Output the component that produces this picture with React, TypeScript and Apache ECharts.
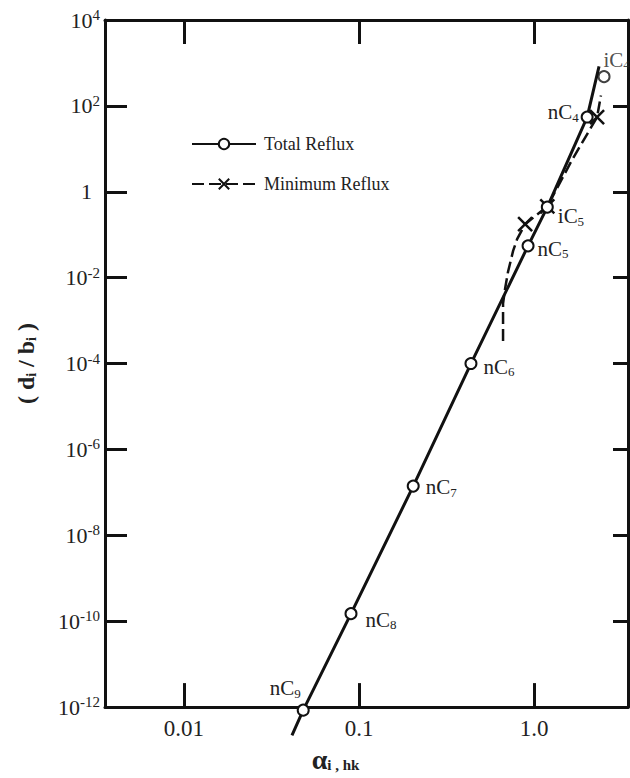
import React, { useEffect, useRef } from 'react';
import * as echarts from 'echarts';

const FONT = '"Liberation Serif", "Times New Roman", serif';

// Total reflux: component points
const components = ['nC9', 'nC8', 'nC7', 'nC6', 'nC5', 'iC5', 'nC4', 'iC4'];
const alphaTotal = [0.048, 0.09, 0.204, 0.436, 0.924, 1.19, 2.01, 2.51];
const ratioTotal = [8.5e-13, 1.5e-10, 1.4e-7, 1.0e-4, 0.055, 0.44, 55, 480];
// Total reflux straight line extension end points
const totalLineStart = [0.0414, 2.2e-13];
const totalLineEnd = [2.35, 830];

// Minimum reflux curve
const minPathAlpha = [0.665, 0.665, 0.683, 0.71, 0.759, 0.8, 0.889, 1.19, 1.65, 2.29, 2.41];
const minPathRatio = [3.35e-4, 2.5e-3, 5.5e-3, 0.0137, 0.042, 0.079, 0.176, 0.457, 5.56, 54.5, 175];
const minMarkerAlpha = [0.889, 1.19, 2.29];

// Axes
const xMin = 0.00354;
const xMax = 3.44;
const xTicks = [0.01, 0.1, 1];
const xTickLabels = ['0.01', '0.1', '1.0'];
const yExponents = [-12, -10, -8, -6, -4, -2, 0, 2, 4];

const labelPlace: Record<string, { position: string; offset: number[] }> = {
  nC9: { position: 'left', offset: [9, -22] },
  nC8: { position: 'right', offset: [3, 6] },
  nC7: { position: 'right', offset: [1, 1] },
  nC6: { position: 'right', offset: [1, 3] },
  nC5: { position: 'right', offset: [-2, 3] },
  iC5: { position: 'right', offset: [-1, 9] },
  nC4: { position: 'left', offset: [3, -5] },
  iC4: { position: 'right', offset: [-12, -17] },
};

const subRich = {
  m: { fontFamily: FONT, fontSize: 21, color: '#222', lineHeight: 24 },
  s: { fontFamily: FONT, fontSize: 13, color: '#222', lineHeight: 14, padding: [10, 0, 0, 0] },
};

function compLabel(name: string) {
  const p = labelPlace[name];
  return {
    show: true,
    position: p.position,
    offset: p.offset,
    formatter: `{m|${name.slice(0, 2)}}{s|${name.slice(2)}}`,
    rich: subRich,
  };
}

export default function App() {
  const ref = useRef<HTMLDivElement>(null);

  useEffect(() => {
    if (!ref.current) return;
    const chart = echarts.init(ref.current, undefined, { renderer: 'svg' });

    const yTicks = yExponents.map((e) => Math.pow(10, e));

    const totalLineData: any[] = [{ value: totalLineStart, symbol: 'none' }];
    components.forEach((c, i) => {
      if (c === 'iC4') return;
      totalLineData.push({ value: [alphaTotal[i], ratioTotal[i]], label: compLabel(c) });
    });
    totalLineData.push({ value: totalLineEnd, symbol: 'none' });

    const iC4i = components.indexOf('iC4');

    const minData = minPathAlpha.map((a, i) => {
      const isMarker = minMarkerAlpha.some((m) => Math.abs(m - a) < 1e-9);
      return isMarker ? { value: [a, minPathRatio[i]] } : { value: [a, minPathRatio[i]], symbol: 'none' };
    });

    const black = '#111';
    const xLabelFmt = (v: number) => {
      const idx = xTicks.findIndex((t) => Math.abs(Math.log10(t) - Math.log10(v)) < 1e-6);
      return idx >= 0 ? xTickLabels[idx] : '';
    };
    const yLabelFmt = (v: number) => {
      const e = Math.round(Math.log10(v));
      if (e === 0) return '{one|1}';
      return `{b|10}{s|${e}}`;
    };

    const option: any = {
      animation: false,
      backgroundColor: '#fff',
      grid: { left: 105, right: 2, top: 20, bottom: 66 },
      legend: {
        data: ['Total Reflux', 'Minimum Reflux'],
        orient: 'vertical',
        left: 186,
        top: 130,
        itemWidth: 64,
        itemHeight: 13,
        itemGap: 22,
        textStyle: { fontFamily: FONT, fontSize: 18, color: '#222', padding: [0, 0, 0, 3] },
      },
      xAxis: [
        {
          type: 'log',
          min: xMin,
          max: xMax,
          position: 'bottom',
          axisLine: { show: true, lineStyle: { color: black, width: 3 } },
          axisTick: { show: true, inside: true, length: 24, customValues: xTicks, lineStyle: { color: black, width: 3 } },
          axisLabel: {
            show: true,
            customValues: xTicks,
            formatter: xLabelFmt,
            fontFamily: FONT,
            fontSize: 23,
            color: '#222',
            margin: 10,
          },
          splitLine: { show: false },
          minorTick: { show: false },
          name: '{a|α}{s|i , hk}',
          nameLocation: 'middle',
          nameGap: 36,
          nameTextStyle: {
            padding: [0, 62, 0, 0],
            rich: {
              a: { fontFamily: FONT, fontSize: 28, fontWeight: 'bold', color: '#222', lineHeight: 30 },
              s: { fontFamily: FONT, fontSize: 15, fontWeight: 'bold', color: '#222', lineHeight: 16, padding: [12, 0, 0, 0] },
            },
          },
        },
        {
          type: 'log',
          min: xMin,
          max: xMax,
          position: 'top',
          axisLine: { show: true, lineStyle: { color: black, width: 3 } },
          axisTick: { show: true, inside: true, length: 24, customValues: xTicks, lineStyle: { color: black, width: 3 } },
          axisLabel: { show: false },
          splitLine: { show: false },
        },
      ],
      yAxis: [
        {
          type: 'log',
          min: 1e-12,
          max: 1e4,
          position: 'left',
          axisLine: { show: true, lineStyle: { color: black, width: 3 } },
          axisTick: { show: true, inside: true, length: 22, customValues: yTicks, lineStyle: { color: black, width: 3 } },
          axisLabel: {
            show: true,
            customValues: yTicks,
            formatter: yLabelFmt,
            margin: 5,
            rich: {
              b: { fontFamily: FONT, fontSize: 22, color: '#222', lineHeight: 26 },
              s: { fontFamily: FONT, fontSize: 15, color: '#222', lineHeight: 16, padding: [0, 0, 10, 0] },
              one: { fontFamily: FONT, fontSize: 22, color: '#222', lineHeight: 26, padding: [0, 8, 0, 0] },
            },
          },
          splitLine: { show: false },
          minorTick: { show: false },
          name: '{p|( d}{s|i}{p| / b}{s|i}{p| )}',
          nameLocation: 'middle',
          nameRotate: 90,
          nameGap: 66,
          nameTextStyle: {
            padding: [0, 0, 0, 0],
            rich: {
              p: { fontFamily: FONT, fontSize: 24, fontWeight: 'bold', color: '#222', lineHeight: 26 },
              s: { fontFamily: FONT, fontSize: 14, fontWeight: 'bold', color: '#222', lineHeight: 15, padding: [11, 0, 0, 0] },
            },
          },
        },
        {
          type: 'log',
          min: 1e-12,
          max: 1e4,
          position: 'right',
          axisLine: { show: true, lineStyle: { color: black, width: 3 } },
          axisTick: { show: true, inside: true, length: 15, customValues: yTicks, lineStyle: { color: black, width: 3 } },
          axisLabel: { show: false },
          splitLine: { show: false },
        },
      ],
      series: [
        {
          name: 'Total Reflux',
          type: 'line',
          xAxisIndex: 0,
          yAxisIndex: 0,
          clip: false,
          symbol: 'emptyCircle',
          symbolSize: 11,
          showAllSymbol: true,
          lineStyle: { color: black, width: 3 },
          itemStyle: { color: black, borderColor: black, borderWidth: 2.5 },
          data: totalLineData,
          z: 3,
        },
        {
          name: 'Minimum Reflux',
          type: 'line',
          xAxisIndex: 0,
          yAxisIndex: 0,
          clip: false,
          symbol: 'path://M0,0L10,10M10,0L0,10',
          symbolSize: 14,
          showAllSymbol: true,
          lineStyle: { color: black, width: 2.5, type: [12, 5] },
          itemStyle: { color: black, borderColor: black, borderWidth: 2.5 },
          data: minData,
          z: 2,
        },
        {
          name: 'Total Reflux',
          type: 'scatter',
          xAxisIndex: 0,
          yAxisIndex: 0,
          symbol: 'emptyCircle',
          symbolSize: 11,
          itemStyle: { color: black, borderColor: black, borderWidth: 2.5 },
          data: [{ value: [alphaTotal[iC4i], ratioTotal[iC4i]], label: compLabel('iC4') }],
          z: 4,
        },
      ],
    };

    chart.setOption(option);
    return () => chart.dispose();
  }, []);

  return (
    <div
      ref={ref}
      style={{ position: 'fixed', left: 0, top: 0, width: 630, height: 778, background: '#fff' }}
    />
  );
}
